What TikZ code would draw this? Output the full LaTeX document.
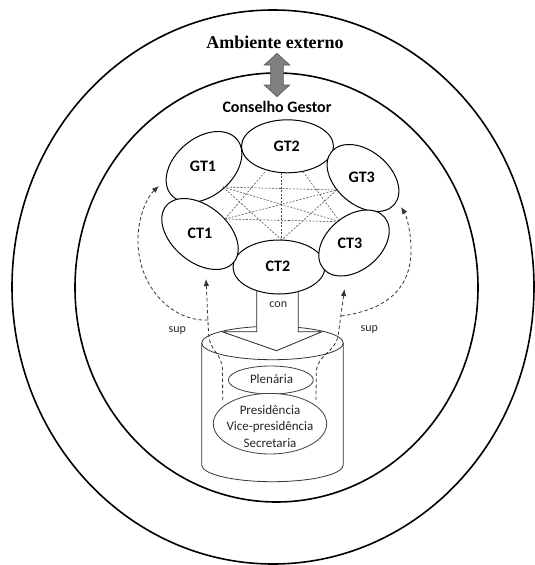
\documentclass[tikz,border=0pt]{standalone}
\usepackage{fontspec}
\setmainfont{Carlito}
\newfontfamily\timesfont{Liberation Serif}
\usetikzlibrary{shapes.geometric,arrows.meta}
\begin{document}
\begin{tikzpicture}[x=1pt,y=-1pt,
  bigell/.style={line width=1.6pt, draw=black},
  orb/.style={draw=black, line width=1pt, ellipse, fill=white, inner sep=0pt},
  orblbl/.style={font=\fontsize{16}{18}\selectfont\bfseries, text=black, inner sep=0pt},
  innerell/.style={draw=black!75, line width=0.8pt, ellipse, fill=white, inner sep=0pt},
  innertxt/.style={text=black!85, font=\fontsize{13}{16.3}\selectfont, align=center, inner sep=0pt},
  mesh/.style={draw=black!72, line width=0.55pt, dash pattern=on 2pt off 1.5pt},
  supline/.style={draw=black!80, line width=0.8pt, dash pattern=on 3.5pt off 2.5pt, -{Latex[length=7pt,width=5.5pt]}},
  smalltxt/.style={font=\fontsize{12}{14}\selectfont, text=black!85, inner sep=0pt},
  cyl/.style={draw=black!80, line width=0.8pt}
]
\useasboundingbox (0,0) rectangle (535,565);
% environment ellipses
\draw[bigell] (273,287) ellipse [x radius=261, y radius=277];
\draw[bigell] (276.5,287.5) ellipse [x radius=201.5, y radius=214.5];
\node[font=\timesfont\bfseries\fontsize{18}{20}\selectfont, inner sep=0pt] (amb) at (275,42) {Ambiente externo};
% grey double arrow
\filldraw[fill=black!50, draw=black!65, line width=0.6pt]
  (277,53.3) -- (289.8,65) -- (283.3,65) -- (283.3,85) -- (289.8,85) -- (277,96.7)
  -- (264.2,85) -- (270.7,85) -- (270.7,65) -- (264.2,65) -- cycle;
\node[font=\fontsize{16}{18}\selectfont\bfseries, inner sep=0pt] (cg) at (277,107) {Conselho Gestor};
% cylinder
\filldraw[cyl, fill=white] (201.7,343) -- (201.7,465)
  .. controls (201.7,474.2) and (233.4,481.7) .. (272.5,481.7)
  .. controls (311.6,481.7) and (343.3,474.2) .. (343.3,465) -- (343.3,343);
\draw[cyl] (272.5,343) ellipse [x radius=70.8, y radius=16.7];
% con arrow
\filldraw[fill=white, draw=black!85, line width=0.8pt]
  (256.7,285) -- (256.7,331.7) -- (222,331.7) -- (276.5,350.7) -- (322,331.7)
  -- (298.3,331.7) -- (298.3,285) -- cycle;
\node[smalltxt] (con) at (278.3,304.3) {con};
% council ellipses
\node[orb, minimum width=92, minimum height=54] (sCT2) at (279,267) {};
\node[orb, minimum width=86, minimum height=58, rotate=40] (sGT1) at (204,167) {};
\node[orb, minimum width=92, minimum height=53] (sGT2) at (287.5,146.3) {};
\node[orb, minimum width=82, minimum height=54, rotate=-40] (sGT3) at (363,178) {};
\node[orb, minimum width=88, minimum height=56, rotate=-40] (sCT1) at (200,234) {};
\node[orb, minimum width=80, minimum height=54, rotate=40] (sCT3) at (354,243) {};
\node[orblbl] (GT1) at (203,166.7) {GT1};
\node[orblbl] (GT2) at (286.7,146.7) {GT2};
\node[orblbl] (GT3) at (361.7,177) {GT3};
\node[orblbl] (CT1) at (200,233) {CT1};
\node[orblbl] (CT2) at (278,266.5) {CT2};
\node[orblbl] (CT3) at (350,243) {CT3};
% mesh
\coordinate (mA1) at (223,187);
\coordinate (mA3) at (336.7,190);
\coordinate (mC1) at (225,219);
\coordinate (mC3) at (340,221.7);
\coordinate (mG2a) at (265,171.7);
\coordinate (mG2b) at (281.7,172.7);
\coordinate (mG2c) at (303,171.7);
\coordinate (mC2) at (281.7,240);
\draw[mesh] (mA1) -- (mA3);
\draw[mesh] (mA1) -- (mC3);
\draw[mesh] (mA1) -- (mC2);
\draw[mesh] (mC1) -- (mC3);
\draw[mesh] (mC1) -- (mA3);
\draw[mesh] (mC1) -- (mG2a);
\draw[mesh] (mG2b) -- (mC2);
\draw[mesh] (mG2c) -- (mC3);
\draw[mesh] (mA3) -- (mC2);
% inner bodies
\node[innerell, minimum width=85, minimum height=28] (sPlen) at (270.8,380) {};
\node[innertxt] (Plen) at (271.5,379) {Plenária};
\node[innerell, minimum width=113.4, minimum height=60.6] (sPres) at (270,423.7) {};
\node[innertxt] (Pres) at (270,426.5) {Presidência\\Vice-presidência\\Secretaria};
% sup arrows
\coordinate (pL) at (222.7,400);
\coordinate (tL) at (206,279);
\coordinate (bL) at (208,320);
\coordinate (tLb) at (159,186);
\coordinate (pR) at (316,400);
\coordinate (tR) at (344.5,289);
\coordinate (bR) at (341,316);
\coordinate (tRb) at (401,207);
\draw[supline] (pL) -- (222.5,370) .. controls (222,352) and (209,352) .. (208.5,332) -- (tL);
\draw[supline] (bL) .. controls (175,322) and (138,290) .. (138,240) .. controls (138,215) and (148,196) .. (tLb);
\draw[supline] (pR) -- (316.3,372) .. controls (317,354) and (337,352) .. (338.5,333) -- (tR);
\draw[supline] (bR) .. controls (385,310) and (411,290) .. (411,250) .. controls (411,230) and (406,215) .. (tRb);
\node[smalltxt] (supL) at (177.3,331) {sup};
\node[smalltxt] (supR) at (369.3,330) {sup};
\end{tikzpicture}
\end{document}
